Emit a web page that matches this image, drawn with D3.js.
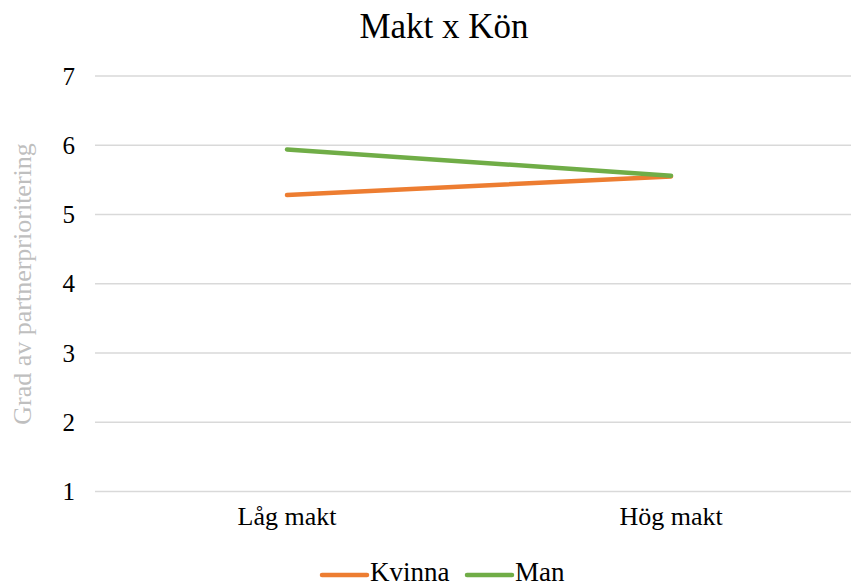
<!DOCTYPE html>
<html>
<head>
<meta charset="utf-8">
<script src="https://cdn.jsdelivr.net/npm/d3@7"></script>
<style>
  body { margin: 0; background: #fff; }
  svg text { font-family: "Liberation Serif", "Times New Roman", serif; }
</style>
</head>
<body>
<div id="chart"></div>
<script>
// Data
var categories = ["Låg makt", "Hög makt"];
var seriesNames = ["Kvinna", "Man"];
var kvinnaValues = [5.28, 5.55];
var manValues = [5.94, 5.56];
var yTicks = [1, 2, 3, 4, 5, 6, 7];
var colors = ["#ED7D31", "#70AD47"];

var svgWidth = 851;
var svgHeight = 584;

var svg = d3.select("#chart")
  .append("svg")
  .attr("width", svgWidth)
  .attr("height", svgHeight);

// Scales
var xScale = d3.scaleBand()
  .domain(categories)
  .range([95, 863]);

var yScale = d3.scaleLinear()
  .domain([1, 7])
  .range([491.5, 76]);

// Gridlines
svg.append("g")
  .selectAll("line")
  .data(yTicks)
  .enter()
  .append("line")
  .attr("x1", 95)
  .attr("x2", svgWidth)
  .attr("y1", d => yScale(d))
  .attr("y2", d => yScale(d))
  .attr("stroke", "#d9d9d9")
  .attr("stroke-width", 1.3);

// Y axis labels
var leftAxis = d3.axisLeft(yScale)
  .tickValues(yTicks)
  .tickFormat(d3.format("d"))
  .tickSize(0)
  .tickPadding(0);
var yAxis = svg.append("g")
  .attr("transform", "translate(75, 0)")
  .call(leftAxis);
yAxis.select(".domain").remove();
yAxis.selectAll("text")
  .attr("font-size", 25)
  .attr("fill", "#000");

// X axis labels
var bottomAxis = d3.axisBottom(xScale).tickSize(0).tickPadding(0);
var xAxis = svg.append("g")
  .attr("transform", "translate(0, 507)")
  .call(bottomAxis);
xAxis.select(".domain").remove();
xAxis.selectAll("text")
  .attr("font-size", 26)
  .attr("fill", "#000");

// Lines
var series = [kvinnaValues, manValues];
var line = d3.line()
  .x((d, i) => xScale(categories[i]) + xScale.bandwidth() / 2)
  .y(d => yScale(d));

svg.append("g")
  .selectAll("path")
  .data(series)
  .enter()
  .append("path")
  .attr("d", d => line(d))
  .attr("fill", "none")
  .attr("stroke", (d, i) => colors[i])
  .attr("stroke-width", 4.5)
  .attr("stroke-linecap", "round");

// Title
svg.append("text")
  .attr("x", 444)
  .attr("y", 38)
  .attr("text-anchor", "middle")
  .attr("font-size", 35)
  .attr("fill", "#000")
  .text("Makt x Kön");

// Y axis title
svg.append("text")
  .attr("transform", "translate(31, 284) rotate(-90)")
  .attr("text-anchor", "middle")
  .attr("font-size", 26)
  .attr("fill", "#bfbfbf")
  .text("Grad av partnerprioritering");

// Legend
var legendX = [322, 467];
var legend = svg.append("g")
  .selectAll("g")
  .data(seriesNames)
  .enter()
  .append("g")
  .attr("transform", (d, i) => `translate(${legendX[i]}, 575)`);

legend.append("line")
  .attr("x1", 0)
  .attr("x2", 45)
  .attr("stroke", (d, i) => colors[i])
  .attr("stroke-width", 4.5)
  .attr("stroke-linecap", "round");

legend.append("text")
  .attr("x", 48)
  .attr("y", 6)
  .attr("font-size", 27)
  .attr("fill", "#000")
  .text(d => d);
</script>
</body>
</html>
